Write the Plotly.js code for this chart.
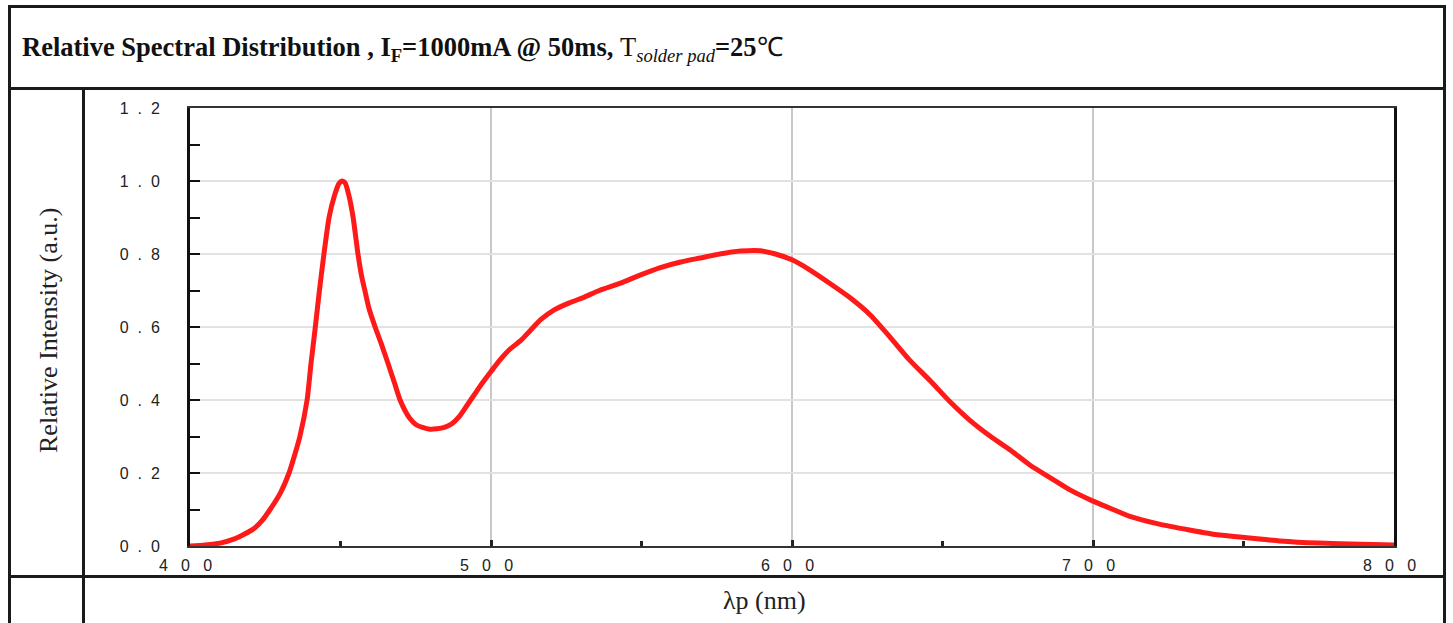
<!DOCTYPE html>
<html>
<head>
<meta charset="utf-8">
<script src="https://cdn.plot.ly/plotly-3.0.1.min.js"></script>
<style>
  html, body { margin: 0; padding: 0; background: #fff; }
  #wrap { position: relative; width: 1453px; height: 623px; overflow: hidden; }
  #chart { position: absolute; left: 0; top: 0; width: 1453px; height: 623px; }
  .ln { position: absolute; background: #1a1a1a; pointer-events: none; }
</style>
</head>
<body>
<div id="wrap">
  <div id="chart"></div>
  <div class="ln" style="left:8px;top:5px;width:1438px;height:3px;"></div>
  <div class="ln" style="left:8px;top:5px;width:3px;height:620px;"></div>
  <div class="ln" style="left:1443px;top:5px;width:3px;height:620px;"></div>
  <div class="ln" style="left:8px;top:87px;width:1438px;height:3px;"></div>
  <div class="ln" style="left:8px;top:575px;width:1438px;height:3px;"></div>
  <div class="ln" style="left:82px;top:87px;width:3px;height:540px;"></div>
</div>
<script>
// wavelength (nm)
const wavelength = [400,405,410,415,418,421.6,424,426.6,430,432.9,434.8,436.5,438.9,440.2,441.5,443,444.5,446.2,448,449.5,450.5,451.5,452.8,454.2,455.8,457,458.1,459.5,461.5,463.5,465.8,468,469.8,471.5,473,475,477.5,479.7,482,484.5,487,489.5,492,494.5,497,500,503,506,510,513,516.5,521,526,531,536,543,549.5,556,563,569.5,576,583,589.5,594.5,600,606,612.5,619,626,632.5,639,646,652.5,659,666,672.5,679,686,692.5,700,705.5,712,722,732,742,752,762,775,789,800];
// relative intensity (a.u.)
const intensity = [0,0.003,0.008,0.02,0.032,0.05,0.07,0.1,0.145,0.2,0.25,0.3,0.4,0.5,0.59,0.7,0.8,0.9,0.96,0.993,1.0,0.995,0.96,0.9,0.8,0.74,0.7,0.65,0.6,0.555,0.5,0.445,0.4,0.37,0.35,0.333,0.324,0.32,0.321,0.325,0.335,0.355,0.385,0.415,0.445,0.478,0.51,0.537,0.564,0.59,0.62,0.647,0.666,0.682,0.70,0.72,0.742,0.762,0.778,0.789,0.80,0.808,0.809,0.80,0.784,0.756,0.72,0.682,0.633,0.573,0.51,0.452,0.395,0.345,0.30,0.263,0.222,0.186,0.153,0.123,0.104,0.082,0.06,0.044,0.03,0.022,0.014,0.008,0.005,0.003];

const xTickVals = [400,500,600,700,800];
const xTickText = ["4\u00a0\u00a0\u00a00\u00a0\u00a0\u00a00\u00a0\u00a0","5\u00a0\u00a0\u00a00\u00a0\u00a0\u00a00\u00a0\u00a0","6\u00a0\u00a0\u00a00\u00a0\u00a0\u00a00\u00a0\u00a0","7\u00a0\u00a0\u00a00\u00a0\u00a0\u00a00\u00a0\u00a0","8\u00a0\u00a0\u00a00\u00a0\u00a0\u00a00\u00a0\u00a0"];
const yTickVals = [0,0.2,0.4,0.6,0.8,1.0,1.2];
const yTickText = ["0\u00a0\u00a0.\u00a0\u00a00","0\u00a0\u00a0.\u00a0\u00a02","0\u00a0\u00a0.\u00a0\u00a04","0\u00a0\u00a0.\u00a0\u00a06","0\u00a0\u00a0.\u00a0\u00a08","1\u00a0\u00a0.\u00a0\u00a00","1\u00a0\u00a0.\u00a0\u00a02"];

const titleText = '<b>Relative Spectral Distribution , I<sub>F</sub>=1000mA @ 50ms, </b>T<sub><i>solder pad</i></sub><b>=25</b>℃';
const xTitle = 'λp (nm)';
const yTitle = 'Relative Intensity (a.u.)';

const W = 1453, H = 623;
const L = 190, R = 59, T = 108, B = 77;
const pw = W - L - R, ph = H - T - B;
const px2x = p => (p - L) / pw;
const py2y = p => (H - B - p) / ph;

const trace = {
  x: wavelength, y: intensity, type: 'scatter', mode: 'lines',
  line: {color: '#ff1a1a', width: 5, shape: 'spline', smoothing: 0.6},
  hoverinfo: 'skip'
};

const tickFont = {family: 'Liberation Sans, Arial, sans-serif', size: 16, color: '#222'};
const layout = {
  width: W, height: H,
  margin: {l: L, r: R, t: T, b: B, pad: 0},
  paper_bgcolor: '#fff', plot_bgcolor: '#fff',
  showlegend: false,
  title: {
    text: titleText,
    font: {family: 'Liberation Serif, Times New Roman, serif', size: 26.5, color: '#111'},
    xref: 'container', yref: 'container',
    x: 22 / W, xanchor: 'left',
    y: 1 - 47 / H, yanchor: 'middle'
  },
  xaxis: {
    range: [400, 800], autorange: false,
    tickvals: xTickVals, ticktext: xTickText,
    ticks: 'inside', ticklen: 6, tickwidth: 3, tickcolor: '#222',
    minor: {tickvals: [450,550,650,750], ticks: 'inside', ticklen: 5, tickwidth: 3, tickcolor: '#222', showgrid: false},
    showgrid: true, gridcolor: '#c8c8c8', gridwidth: 1.5,
    showline: true, linecolor: '#333', linewidth: 1.6, mirror: true,
    zeroline: false,
    tickfont: tickFont,
    ticklabelstandoff: 4
  },
  yaxis: {
    range: [0, 1.2], autorange: false,
    tickvals: yTickVals, ticktext: yTickText,
    ticks: 'inside', ticklen: 10, tickwidth: 2, tickcolor: '#111',
    minor: {tickvals: [0.1,0.3,0.5,0.7,0.9,1.1], ticks: 'inside', ticklen: 10, tickwidth: 2, tickcolor: '#111', showgrid: false},
    showgrid: true, gridcolor: '#e2e2e2', gridwidth: 1.5,
    showline: true, linecolor: '#111', linewidth: 3, mirror: true,
    zeroline: false,
    tickfont: tickFont,
    ticklabelstandoff: 24
  },
  annotations: [
    {text: xTitle, xref: 'paper', yref: 'paper', x: px2x(764), y: py2y(600),
     xanchor: 'center', yanchor: 'middle', showarrow: false,
     font: {family: 'Liberation Serif, Times New Roman, serif', size: 26, color: '#222'}},
    {text: yTitle, xref: 'paper', yref: 'paper', x: px2x(48), y: py2y(331),
     xanchor: 'center', yanchor: 'middle', showarrow: false, textangle: -90,
     font: {family: 'Liberation Serif, Times New Roman, serif', size: 26, color: '#222'}}
  ]
};

Plotly.newPlot('chart', [trace], layout, {displayModeBar: false, staticPlot: true});
</script>
</body>
</html>
